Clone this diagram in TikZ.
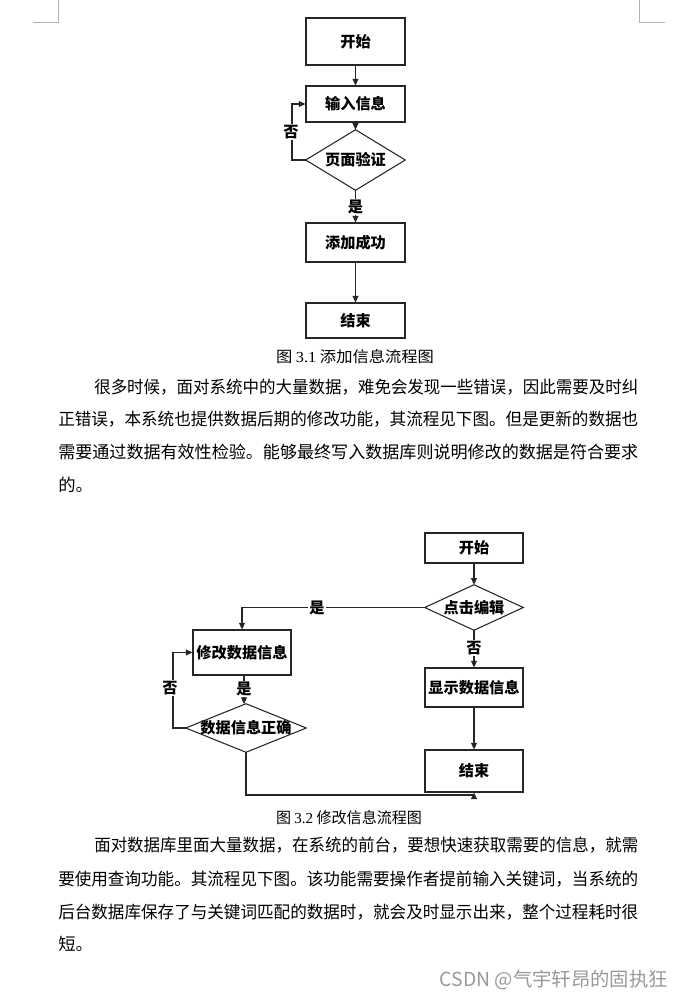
\documentclass[tikz,border=0pt]{standalone}
\usepackage{graphicx}
\usepackage{fontspec}
\setmainfont{Liberation Serif}
\newfontfamily\cjk{Noto Sans CJK SC}
\usetikzlibrary{arrows.meta}
\newcommand{\fitline}[2]{\resizebox{#1}{\height}{#2}}
\tikzset{
  flowbox/.style={draw=black!85, line width=0.8pt, inner sep=0pt, font=\cjk\bfseries\fontsize{11.4pt}{13pt}\selectfont},
  dshape/.style={inner sep=0pt, font=\cjk\bfseries\fontsize{11.4pt}{13pt}\selectfont},
  conn/.style={draw=black!85, line width=0.8pt, -{Triangle[length=5pt,width=4.5pt]}},
  plain/.style={draw=black!85, line width=0.8pt},
  lbl/.style={fill=white, inner sep=1pt, font=\cjk\bfseries\fontsize{11.4pt}{13pt}\selectfont},
  bodytext/.style={anchor=west, inner sep=0pt, font=\cjk\fontsize{12.8pt}{15pt}\selectfont},
  captext/.style={inner sep=0pt, font=\cjk\fontsize{11.5pt}{13pt}\selectfont},
  cornermark/.style={draw=black!30, line width=0.6pt}
}
\begin{document}
\begin{tikzpicture}[x=0.75pt,y=-0.75pt]
\useasboundingbox (0,0) rectangle (684,999);
% corner marks
\coordinate (cl1) at (58,0); \coordinate (cl2) at (58,22); \coordinate (cl3) at (33,22);
\coordinate (cr1) at (639,0); \coordinate (cr2) at (639,22); \coordinate (cr3) at (665,22);
\draw[cornermark] (cl1) -- (cl2) -- (cl3);
\draw[cornermark] (cr1) -- (cr2) -- (cr3);

% ---------- Figure 3.1 ----------
\node[flowbox, minimum width=74.25pt, minimum height=35.25pt] (s1) at (355.5,41.5) {开始};
\node[flowbox, minimum width=74.25pt, minimum height=27pt] (in1) at (355.5,104) {输入信息};
\node[dshape, minimum width=74.25pt, minimum height=45pt] (d1) at (355.5,160) {页面验证};
\draw[plain] (d1.north) -- (d1.east) -- (d1.south) -- (d1.west) -- cycle;
\node[flowbox, minimum width=74.25pt, minimum height=29.25pt] (add1) at (355.5,242.5) {添加成功};
\node[flowbox, minimum width=74.25pt, minimum height=26.25pt] (end1) at (355.5,320.5) {结束};
\coordinate (lp1) at (292,160);
\draw[conn] (s1.south) -- (in1.north);
\draw[conn] (in1.south) -- (d1.north);
\draw[conn] (d1.south) -- (add1.north);
\draw[conn] (add1.south) -- (end1.north);
\draw[conn] (d1.west) -- (lp1) |- (in1.west);
\node[lbl] (no1) at (291,132) {否};
\node[lbl] (yes1) at (355.5,207) {是};
\node[captext] (cap1) at (355,357) {\fitline{118.5pt}{图 {\rmfamily 3.1} 添加信息流程图}};

% ---------- paragraph 1 ----------
\node[bodytext] (p1a) at (94,387) {\fitline{408pt}{很多时候，面对系统中的大量数据，难免会发现一些错误，因此需要及时纠}};
\node[bodytext] (p1b) at (58,419.5) {\fitline{435pt}{正错误，本系统也提供数据后期的修改功能，其流程见下图。但是更新的数据也}};
\node[bodytext] (p1c) at (58,452) {\fitline{435pt}{需要通过数据有效性检验。能够最终写入数据库则说明修改的数据是符合要求}};
\node[bodytext] (p1d) at (58,484.5) {\fitline{26pt}{的。}};

% ---------- Figure 3.2 ----------
\node[flowbox, minimum width=73.5pt, minimum height=22.5pt] (s2) at (474,548) {开始};
\node[dshape, minimum width=73.5pt, minimum height=33.75pt] (d2) at (474,607.5) {点击编辑};
\draw[plain] (d2.north) -- (d2.east) -- (d2.south) -- (d2.west) -- cycle;
\node[flowbox, minimum width=73.5pt, minimum height=33.75pt] (m2) at (242,652.5) {修改数据信息};
\node[flowbox, minimum width=73.5pt, minimum height=29.25pt] (show2) at (474,687.5) {显示数据信息};
\node[flowbox, minimum width=73.5pt, minimum height=31.5pt] (end2) at (474,771) {结束};
\node[dshape, minimum width=90pt, minimum height=36pt] (d3) at (246,728) {数据信息正确};
\draw[plain] (d3.north) -- (d3.east) -- (d3.south) -- (d3.west) -- cycle;
\coordinate (lp2) at (173,728);
\coordinate (bt2) at (246,795);
\coordinate (m2b) at (244,675);
\coordinate (d3t) at (244,704);
\draw[conn] (s2.south) -- (d2.north);
\draw[conn] (d2.west) -| (m2.north);
\draw[conn] (d2.south) -- (show2.north);
\draw[conn] (show2.south) -- (end2.north);
\draw[conn] (m2b) -- (d3t);
\draw[conn] (d3.west) -- (lp2) |- (m2.west);
\draw[conn] (d3.south) -- (bt2) -| (end2.south);
\node[lbl] (yes2) at (317,607.5) {是};
\node[lbl] (no2) at (474,648) {否};
\node[lbl] (yes3) at (244,689) {是};
\node[lbl] (no3) at (170,688) {否};
\node[captext] (cap2) at (349,818) {\fitline{109.5pt}{图 {\rmfamily 3.2} 修改信息流程图}};

% ---------- paragraph 2 ----------
\node[bodytext] (p2a) at (94,845) {\fitline{408pt}{面对数据库里面大量数据，在系统的前台，要想快速获取需要的信息，就需}};
\node[bodytext] (p2b) at (58,879) {\fitline{435pt}{要使用查询功能。其流程见下图。该功能需要操作者提前输入关键词，当系统的}};
\node[bodytext] (p2c) at (58,912) {\fitline{435pt}{后台数据库保存了与关键词匹配的数据时，就会及时显示出来，整个过程耗时很}};
\node[bodytext] (p2d) at (58,944) {\fitline{26pt}{短。}};

% watermark
\node[anchor=east, inner sep=0pt, text=black!40, font=\cjk\fontsize{14.5pt}{16pt}\selectfont] (wm) at (668,980) {CSDN @气宇轩昂的固执狂};
\end{tikzpicture}
\end{document}
